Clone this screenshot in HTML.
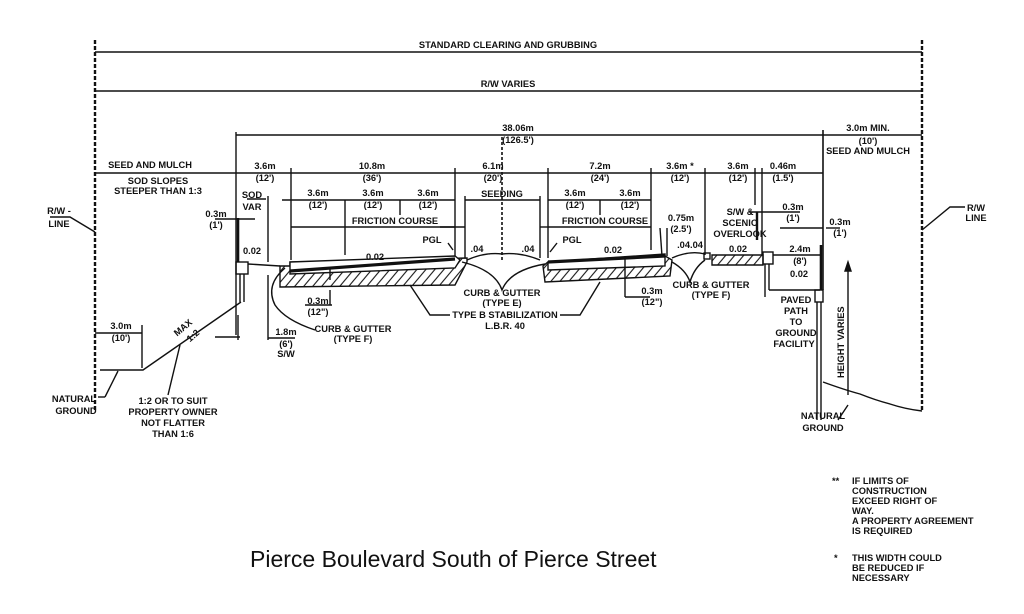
<!DOCTYPE html>
<html><head><meta charset="utf-8"><style>
html,body{margin:0;padding:0;background:#fff;}
svg{display:block;}
.t{font-family:"Liberation Sans",sans-serif;font-size:9.3px;font-weight:bold;fill:#111;}
.m{text-anchor:middle;}
</style></head><body>
<svg width="1024" height="614" viewBox="0 0 1024 614" xmlns="http://www.w3.org/2000/svg">
<defs>
<pattern id="h" width="9" height="9" patternUnits="userSpaceOnUse" patternTransform="skewX(-40)">
<rect width="9" height="9" fill="#fff"/><line x1="4" y1="0" x2="4" y2="9" stroke="#111" stroke-width="1.4"/>
</pattern>
</defs>
<g stroke="#111" stroke-width="1.4" fill="none">
<line x1="95" y1="40" x2="95" y2="412" stroke-width="2.4" stroke-dasharray="4,2"/>
<line x1="922" y1="40" x2="922" y2="412" stroke-width="2.4" stroke-dasharray="4,2"/>
<line x1="95" y1="52" x2="922" y2="52"/>
<line x1="95" y1="91" x2="922" y2="91"/>
<line x1="236" y1="135" x2="823" y2="135"/>
<line x1="823" y1="135" x2="922" y2="135"/>
<line x1="236" y1="132" x2="236" y2="335"/>
<line x1="823" y1="130" x2="823" y2="290" stroke-width="1.6"/>
<line x1="502" y1="137" x2="502" y2="260" stroke-dasharray="3,2" stroke-width="1.6"/>
<line x1="95" y1="173" x2="823" y2="173"/>
<line x1="291" y1="168" x2="291" y2="260"/>
<line x1="455" y1="168" x2="455" y2="258"/>
<line x1="548" y1="168" x2="548" y2="258"/>
<line x1="651" y1="168" x2="651" y2="250"/>
<line x1="705" y1="168" x2="705" y2="255"/>
<line x1="755" y1="168" x2="755" y2="205"/>
<line x1="762" y1="168" x2="762" y2="255"/>
<line x1="282" y1="200" x2="455" y2="200"/>
<line x1="345" y1="200" x2="345" y2="255"/>
<line x1="400" y1="200" x2="400" y2="215"/>
<line x1="465" y1="200" x2="540" y2="200"/>
<line x1="465" y1="196" x2="465" y2="258"/>
<line x1="540" y1="196" x2="540" y2="258"/>
<line x1="548" y1="200" x2="651" y2="200"/>
<line x1="600" y1="200" x2="600" y2="215"/>
<line x1="291" y1="227" x2="455" y2="227"/>
<line x1="440" y1="227" x2="465" y2="227"/>
<line x1="540" y1="227" x2="548" y2="227"/>
<line x1="548" y1="227" x2="651" y2="227"/>
<line x1="247" y1="199" x2="266" y2="199"/>
<line x1="268" y1="196" x2="268" y2="262"/>
<line x1="215" y1="219" x2="255" y2="219"/>
<line x1="238" y1="218" x2="238" y2="262" stroke-width="2.6"/>
<rect x="236" y="262" width="12" height="12"/>
<line x1="240" y1="274" x2="240" y2="302"/><line x1="244" y1="274" x2="244" y2="302"/>
<line x1="248" y1="264" x2="280" y2="266"/>
<polygon points="280,266 290,266 290,262 467,258 467,262 455,285 280,287" fill="url(#h)"/>
<polygon points="290,262 455,256 460,260 455,268 290,274" fill="#fff"/>
<line x1="290" y1="271" x2="455" y2="259" stroke-width="3.2"/>
<line x1="330" y1="268" x2="330" y2="280"/>
<path d="M467,260 Q485,252 502,254 Q520,252 540,260"/>
<path d="M462,262 Q495,270 502,290 Q510,270 545,264"/>
<polygon points="543,266 548,262 665,256 672,260 670,276 545,282" fill="url(#h)"/>
<polygon points="548,262 665,254 665,266 548,270" fill="#fff"/>
<line x1="548" y1="262" x2="665" y2="256" stroke-width="3.2"/>
<line x1="625" y1="256" x2="625" y2="276"/>
<line x1="660" y1="228" x2="662" y2="256"/>
<line x1="667" y1="228" x2="667" y2="256"/>
<path d="M672,258 Q690,250 705,254"/>
<path d="M672,262 Q686,270 690,282 Q694,268 705,260"/>
<rect x="704" y="253" width="6" height="6"/>
<polygon points="712,255 763,255 763,265 712,265" fill="url(#h)"/>
<rect x="763" y="252" width="10" height="12"/>
<line x1="765" y1="264" x2="765" y2="297"/><line x1="769" y1="264" x2="769" y2="290"/>
<line x1="769" y1="290" x2="820" y2="290"/>
<line x1="773" y1="255" x2="820" y2="255"/>
<line x1="750" y1="212" x2="800" y2="212"/>
<line x1="757" y1="212" x2="757" y2="240" stroke-width="2.4"/>
<line x1="780" y1="228" x2="823" y2="228"/>
<rect x="815" y="290" width="8" height="12"/>
<line x1="817" y1="302" x2="817" y2="420"/><line x1="821" y1="302" x2="821" y2="420"/>
<line x1="821" y1="245" x2="821" y2="290" stroke-width="2.6"/>
<line x1="826" y1="228" x2="840" y2="228"/>
<line x1="848" y1="268" x2="848" y2="395"/>
<polygon points="848,262 845,271 851,271" fill="#111"/>
<path d="M823,382 Q845,390 860,394 Q875,400 890,404 Q905,409 922,411"/>
<path d="M838,420 L848,405" />
<path d="M285,268 Q265,285 275,305 Q285,320 315,330"/>
<line x1="268" y1="275" x2="268" y2="340"/>
<line x1="238" y1="315" x2="238" y2="340"/>
<line x1="215" y1="337" x2="240" y2="337"/>
<line x1="268" y1="338" x2="295" y2="338"/>
<line x1="330" y1="290" x2="330" y2="305"/><line x1="305" y1="305" x2="332" y2="305"/>
<line x1="625" y1="276" x2="625" y2="297"/><line x1="625" y1="297" x2="650" y2="297"/>
<polyline points="241,302 143,370 100,370"/>
<line x1="142" y1="325" x2="142" y2="368"/>
<line x1="95" y1="333" x2="142" y2="333"/>
<line x1="180" y1="345" x2="168" y2="395"/>
<line x1="118" y1="371" x2="105" y2="397"/><line x1="105" y1="397" x2="98" y2="397"/>
<polyline points="50,217 70,217 95,232"/>
<polyline points="965,207 950,207 922,230"/>
<polyline points="410,285 430,315 450,315"/>
<polyline points="600,282 580,315 560,315"/>
<polyline points="448,243 453,250"/>
<polyline points="557,243 550,252"/>
</g>
<g class="t">
<text x="508" y="48" class="m">STANDARD CLEARING AND GRUBBING</text>
<text x="508" y="87" class="m">R/W VARIES</text>
<text x="518" y="131" class="m">38.06m</text><text x="518" y="143" class="m">(126.5')</text>
<text x="868" y="131" class="m">3.0m MIN.</text><text x="868" y="144" class="m">(10')</text><text x="868" y="154" class="m">SEED AND MULCH</text>
<text x="150" y="168" class="m">SEED AND MULCH</text>
<text x="158" y="184" class="m">SOD SLOPES</text><text x="158" y="194" class="m">STEEPER THAN 1:3</text>
<text x="265" y="169" class="m">3.6m</text><text x="265" y="181" class="m">(12')</text>
<text x="372" y="169" class="m">10.8m</text><text x="372" y="181" class="m">(36')</text>
<text x="493" y="169" class="m">6.1m</text><text x="493" y="181" class="m">(20')</text>
<text x="600" y="169" class="m">7.2m</text><text x="600" y="181" class="m">(24')</text>
<text x="680" y="169" class="m">3.6m *</text><text x="680" y="181" class="m">(12')</text>
<text x="738" y="169" class="m">3.6m</text><text x="738" y="181" class="m">(12')</text>
<text x="783" y="169" class="m">0.46m</text><text x="783" y="181" class="m">(1.5')</text>
<text x="252" y="198" class="m">SOD</text><text x="252" y="210" class="m">VAR</text>
<text x="318" y="196" class="m">3.6m</text><text x="318" y="208" class="m">(12')</text>
<text x="373" y="196" class="m">3.6m</text><text x="373" y="208" class="m">(12')</text>
<text x="428" y="196" class="m">3.6m</text><text x="428" y="208" class="m">(12')</text>
<text x="502" y="197" class="m">SEEDING</text>
<text x="575" y="196" class="m">3.6m</text><text x="575" y="208" class="m">(12')</text>
<text x="630" y="196" class="m">3.6m</text><text x="630" y="208" class="m">(12')</text>
<text x="395" y="224" class="m">FRICTION COURSE</text>
<text x="605" y="224" class="m">FRICTION COURSE</text>
<text x="681" y="221" class="m">0.75m</text><text x="681" y="232" class="m">(2.5')</text>
<text x="740" y="215" class="m">S/W &amp;</text><text x="740" y="226" class="m">SCENIC</text><text x="740" y="237" class="m">OVERLOOK</text>
<text x="793" y="210" class="m">0.3m</text><text x="793" y="221" class="m">(1')</text>
<text x="840" y="225" class="m">0.3m</text><text x="840" y="236" class="m">(1')</text>
<text x="216" y="217" class="m">0.3m</text><text x="216" y="228" class="m">(1')</text>
<text x="252" y="254" class="m">0.02</text>
<text x="375" y="260" class="m">0.02</text>
<text x="613" y="253" class="m">0.02</text>
<text x="738" y="252" class="m">0.02</text>
<text x="477" y="252" class="m">.04</text><text x="528" y="252" class="m">.04</text>
<text x="690" y="248" class="m">.04.04</text>
<text x="800" y="252" class="m">2.4m</text><text x="800" y="264" class="m">(8')</text>
<text x="799" y="277" class="m">0.02</text>
<text x="432" y="243" class="m">PGL</text><text x="572" y="243" class="m">PGL</text>
<text x="59" y="214" class="m">R/W -</text><text x="59" y="227" class="m">LINE</text>
<text x="976" y="211" class="m">R/W</text><text x="976" y="221" class="m">LINE</text>
<text x="502" y="296" class="m">CURB &amp; GUTTER</text><text x="502" y="306" class="m">(TYPE E)</text>
<text x="505" y="318" class="m">TYPE B STABILIZATION</text><text x="505" y="329" class="m">L.B.R. 40</text>
<text x="711" y="288" class="m">CURB &amp; GUTTER</text><text x="711" y="298" class="m">(TYPE F)</text>
<text x="652" y="294" class="m">0.3m</text><text x="652" y="305" class="m">(12")</text>
<text x="318" y="304" class="m">0.3m</text><text x="318" y="315" class="m">(12")</text>
<text x="353" y="332" class="m">CURB &amp; GUTTER</text><text x="353" y="342" class="m">(TYPE F)</text>
<text x="286" y="335" class="m">1.8m</text><text x="286" y="347" class="m">(6')</text><text x="286" y="357" class="m">S/W</text>
<text x="121" y="329" class="m">3.0m</text><text x="121" y="341" class="m">(10')</text>
<text x="0" y="0" transform="translate(185,330) rotate(-40)" class="m">MAX</text>
<text x="0" y="0" transform="translate(195,338) rotate(-40)" class="m">1:2</text>
<text x="74" y="402" class="m">NATURAL</text><text x="76" y="414" class="m">GROUND</text>
<text x="173" y="404" class="m">1:2 OR TO SUIT</text><text x="173" y="415" class="m">PROPERTY OWNER</text><text x="173" y="426" class="m">NOT FLATTER</text><text x="173" y="437" class="m">THAN 1:6</text>
<text x="796" y="303" class="m">PAVED</text><text x="796" y="314" class="m">PATH</text><text x="796" y="325" class="m">TO</text><text x="796" y="336" class="m">GROUND</text><text x="794" y="347" class="m">FACILITY</text>
<text x="0" y="0" transform="translate(844,378) rotate(-90)">HEIGHT VARIES</text>
<text x="823" y="419" class="m">NATURAL</text><text x="823" y="431" class="m">GROUND</text>
<text x="832" y="484">**</text><text x="852" y="484">IF LIMITS OF</text>
<text x="852" y="494">CONSTRUCTION</text><text x="852" y="504">EXCEED RIGHT OF</text>
<text x="852" y="514">WAY.</text><text x="852" y="524">A PROPERTY AGREEMENT</text>
<text x="852" y="534">IS REQUIRED</text>
<text x="834" y="561">*</text><text x="852" y="561">THIS WIDTH COULD</text>
<text x="852" y="571">BE REDUCED IF</text><text x="852" y="581">NECESSARY</text>
</g>
<text x="250" y="567" style="font-family:'Liberation Sans',sans-serif;font-size:23px;fill:#111;">Pierce Boulevard South of Pierce Street</text>
</svg>
</body></html>
